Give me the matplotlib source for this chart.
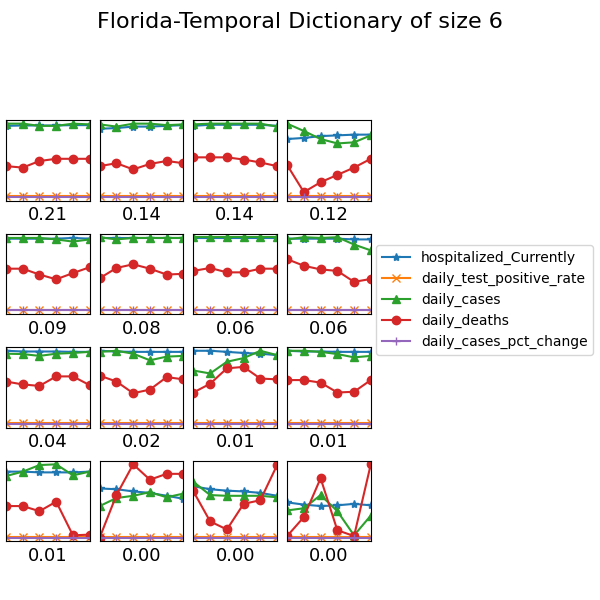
import matplotlib
matplotlib.use("Agg")
import matplotlib.pyplot as plt

title = "Florida-Temporal Dictionary of size 6"
series_names = ["hospitalized_Currently", "daily_test_positive_rate", "daily_cases",
                "daily_deaths", "daily_cases_pct_change"]
markers = ["*", "x", "^", "o", "+"]
colors = ["#1f77b4", "#ff7f0e", "#2ca02c", "#d62728", "#9467bd"]
weights = ["0.21", "0.14", "0.14", "0.12",
           "0.09", "0.08", "0.06", "0.06",
           "0.04", "0.02", "0.01", "0.01",
           "0.01", "0.00", "0.00", "0.00"]

hosp = [
    [0.97, 0.975, 0.975, 0.975, 0.98, 0.98],
    [0.93, 0.94, 0.96, 0.96, 0.97, 0.98],
    [0.97, 0.985, 0.985, 0.985, 0.985, 0.97],
    [0.79, 0.805, 0.83, 0.84, 0.85, 0.85],
    [0.98, 0.98, 0.98, 0.98, 0.99, 0.98],
    [0.99, 0.99, 0.99, 0.99, 0.99, 0.99],
    [0.99, 0.99, 0.99, 0.99, 0.99, 0.99],
    [0.98, 0.98, 0.98, 0.98, 0.97, 0.97],
    [1.0, 0.99, 0.99, 0.99, 0.985, 0.985],
    [1.0, 0.99, 0.985, 0.985, 0.985, 0.985],
    [1.0, 1.0, 0.985, 0.97, 0.96, 0.94],
    [1.0, 0.99, 0.99, 0.985, 0.985, 0.985],
    [0.90, 0.90, 0.89, 0.89, 0.89, 0.90],
    [0.67, 0.66, 0.63, 0.61, 0.57, 0.53],
    [0.70, 0.66, 0.64, 0.63, 0.61, 0.57],
    [0.48, 0.45, 0.43, 0.44, 0.46, 0.44],
]
test_rate = [[0.01] * 6 for _ in range(16)]
cases = [
    [1.0, 1.0, 0.97, 0.97, 1.0, 0.99],
    [0.99, 0.96, 1.0, 1.0, 0.98, 0.99],
    [0.99, 1.0, 1.0, 1.0, 1.0, 0.96],
    [1.0, 0.90, 0.79, 0.73, 0.745, 0.84],
    [0.99, 0.99, 0.99, 0.97, 0.94, 0.97],
    [1.0, 0.97, 0.99, 0.99, 0.99, 0.99],
    [1.0, 1.0, 1.0, 1.0, 1.0, 1.0],
    [0.97, 1.0, 0.99, 1.0, 0.90, 0.82],
    [0.96, 0.955, 0.93, 0.96, 0.97, 0.985],
    [0.985, 1.0, 0.96, 0.87, 0.92, 0.93],
    [0.73, 0.69, 0.85, 0.90, 1.0, 0.94],
    [1.0, 1.0, 0.985, 0.955, 0.91, 0.93],
    [0.84, 0.90, 0.99, 1.0, 0.85, 0.90],
    [0.43, 0.54, 0.57, 0.62, 0.55, 0.60],
    [0.76, 0.58, 0.57, 0.57, 0.57, 0.55],
    [0.37, 0.40, 0.58, 0.36, 0.03, 0.30],
]
deaths = [
    [0.42, 0.40, 0.49, 0.52, 0.52, 0.52],
    [0.42, 0.46, 0.375, 0.45, 0.49, 0.46],
    [0.54, 0.54, 0.54, 0.51, 0.47, 0.42],
    [0.435, 0.065, 0.20, 0.30, 0.40, 0.52],
    [0.57, 0.57, 0.49, 0.425, 0.51, 0.59],
    [0.44, 0.58, 0.63, 0.57, 0.49, 0.50],
    [0.54, 0.58, 0.52, 0.52, 0.57, 0.57],
    [0.70, 0.61, 0.56, 0.54, 0.39, 0.43],
    [0.58, 0.54, 0.52, 0.65, 0.65, 0.53],
    [0.66, 0.58, 0.42, 0.47, 0.64, 0.61],
    [0.43, 0.55, 0.76, 0.78, 0.62, 0.61],
    [0.60, 0.60, 0.565, 0.43, 0.44, 0.60],
    [0.43, 0.43, 0.36, 0.49, 0.03, 0.04],
    [0.0, 0.58, 1.0, 0.79, 0.87, 0.87],
    [0.63, 0.22, 0.11, 0.46, 0.51, 0.99],
    [0.02, 0.28, 0.81, 0.10, 0.02, 1.0],
]
pct_change = [[0.0] * 6 for _ in range(16)]

all_series = [hosp, test_rate, cases, deaths, pct_change]

fig, axes = plt.subplots(4, 4, figsize=(6, 6), dpi=100)
fig.subplots_adjust(left=0.01, right=0.618, top=0.8, bottom=0.098, wspace=0.12, hspace=0.41)
fig.suptitle(title, fontsize=16)

x = list(range(6))
for i, ax in enumerate(axes.flat):
    for s, name in enumerate(series_names):
        ax.plot(x, all_series[s][i], marker=markers[s], color=colors[s], label=name)
    ax.set_xlim(0, 5)
    ax.set_ylim(-0.05, 1.05)
    ax.set_xticks([])
    ax.set_yticks([])
    ax.set_xlabel(weights[i], fontsize=13)

handles, labels = axes[0, 0].get_legend_handles_labels()
fig.legend(handles, labels, loc="center right", fontsize=10)
fig.savefig("out.png")
